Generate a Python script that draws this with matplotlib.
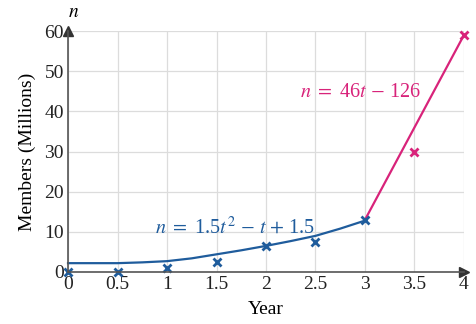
import matplotlib.pyplot as plt

# observed data (millions of members)
t_obs_blue = [0, 0.5, 1, 1.5, 2, 2.5, 3]
n_obs_blue = [0, 0, 1, 2.5, 6.5, 7.5, 13]
t_obs_pink = [3.5, 4]
n_obs_pink = [30, 59]

# fitted curves
t_fit_blue = [0, 0.25, 0.5, 0.75, 1, 1.25, 1.5, 1.75, 2, 2.25, 2.5, 2.75, 3]
n_fit_blue = [2.2, 2.2, 2.2, 2.4, 2.7, 3.4, 4.4, 5.4, 6.5, 7.7, 9.0, 10.8, 12.8]
t_fit_pink = [3, 4]
n_fit_pink = [13, 59]

xticks = [0, 0.5, 1, 1.5, 2, 2.5, 3, 3.5, 4]
xticklabels = ['0', '0.5', '1', '1.5', '2', '2.5', '3', '3.5', '4']
yticks = [0, 10, 20, 30, 40, 50, 60]

blue = '#1f5c9c'
pink = '#d8237a'

plt.rcParams['font.family'] = ['Liberation Serif', 'DejaVu Serif']
plt.rcParams['mathtext.fontset'] = 'stix'

fig = plt.figure(figsize=(4.77, 3.24), dpi=100)
ax = fig.add_axes([0.1426, 0.1605, 0.8301, 0.7438])

ax.set_xlim(0, 4)
ax.set_ylim(0, 60)
ax.set_xticks(xticks)
ax.set_xticklabels(xticklabels)
ax.set_yticks(yticks)
ax.grid(True, color='#dcdcdc', linewidth=0.9)
ax.tick_params(length=0, labelsize=14, colors='#222222', pad=3)
for s in ['top', 'right']:
    ax.spines[s].set_visible(False)
for s in ['left', 'bottom']:
    ax.spines[s].set_color('#555555')
    ax.spines[s].set_linewidth(1.2)
ax.set_axisbelow(True)

# arrow heads
ax.plot(1, 0, '>', color='#333333', markersize=7, transform=ax.transAxes, clip_on=False)
ax.plot(0, 1, '^', color='#333333', markersize=7, transform=ax.transAxes, clip_on=False)

ax.plot(t_fit_blue, n_fit_blue, color=blue, linewidth=1.6, clip_on=False)
ax.plot(t_fit_pink, n_fit_pink, color=pink, linewidth=1.6, clip_on=False)
ax.plot(t_obs_blue, n_obs_blue, 'x', color=blue, markersize=6, mew=2, clip_on=False)
ax.plot(t_obs_pink, n_obs_pink, 'x', color=pink, markersize=6, mew=2, clip_on=False)

ax.text(1.69, 11.2, r'$n$ $=$ 1.5$t^2$ $-$ $t$ $+$ 1.5', color=blue, fontsize=14.5,
        ha='center', va='center')
ax.text(2.95, 44.8, r'$n$ $=$ 46$t$ $-$ 126', color=pink, fontsize=14.5,
        ha='center', va='center')

ax.text(0.0, 62.5, r'$n$', fontsize=14, ha='left', va='bottom')
ax.set_xlabel('Year', fontsize=14, labelpad=6)
ax.set_ylabel('Members (Millions)', fontsize=14, labelpad=6)

fig.savefig('out.png', dpi=100)
